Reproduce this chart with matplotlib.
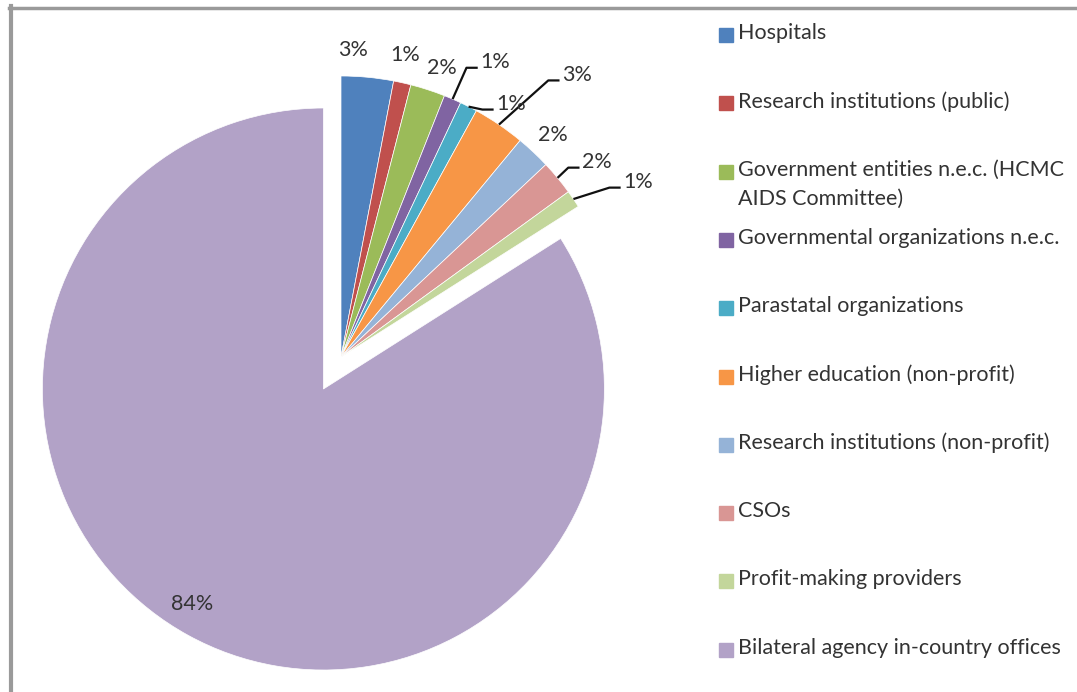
import numpy as np
import matplotlib
matplotlib.use("Agg")
import matplotlib.pyplot as plt
from matplotlib.patches import Rectangle
from matplotlib.lines import Line2D

plt.rcParams["font.family"] = ["Lato", "DejaVu Sans"]

categories = [
    "Hospitals",
    "Research institutions (public)",
    "Government entities n.e.c. (HCMC\nAIDS Committee)",
    "Governmental organizations n.e.c.",
    "Parastatal organizations",
    "Higher education (non-profit)",
    "Research institutions (non-profit)",
    "CSOs",
    "Profit-making providers",
    "Bilateral agency in-country offices",
]
shares = [3, 1, 2, 1, 1, 3, 2, 2, 1, 84]
colors = ["#4F81BD", "#C0504D", "#9BBB59", "#8064A2", "#4BACC6",
          "#F79646", "#95B3D7", "#D99694", "#C3D69B", "#B2A2C7"]

# label placement: radius and angular nudge (degrees) from the wedge middle
label_r = [1.093, 1.099, 1.089, 1.184, 1.085, 1.309, 1.092, 1.145, 1.227, 0.896]
label_dt = [3.2, 0.6, -1.3, -4.2, -6.9, -5.7, -0.5, -2.3, -3.7, -2.6]
leader = [False, False, False, True, True, True, False, True, True, False]

W, H = 1077, 692
R = 281.0
cx, cy = 341, 357
FS = 15.5

fig = plt.figure(figsize=(W / 100, H / 100), dpi=100)
ax = fig.add_axes([0, 0, 1, 1])

explode = [0] * 9 + [0.13]
wedges, _ = ax.pie(shares, colors=colors, startangle=90, counterclock=False,
                   explode=explode, radius=1,
                   wedgeprops=dict(edgecolor="white", linewidth=0.5))

ax.set_aspect("auto")
ax.set_xlim(-cx / R, (W - cx) / R)
ax.set_ylim(-(H - cy) / R, cy / R)
ax.axis("off")

txt_color = "#333333"
for w, v, r, dt, lead in zip(wedges, shares, label_r, label_dt, leader):
    mid = np.deg2rad((w.theta1 + w.theta2) / 2)
    ox, oy = w.center
    ang = mid + np.deg2rad(dt)
    tx, ty = ox + r * np.cos(ang), oy + r * np.sin(ang)
    ax.text(tx, ty, f"{v}%", ha="center", va="center", fontsize=FS,
            color=txt_color)
    if lead:
        x0, y0 = ox + np.cos(mid), oy + np.sin(mid)
        x2, y2 = tx - 0.062, ty - 0.02
        x1 = x2 - 0.04
        ax.plot([x0, x1, x2], [y0, y2, y2], color="#111111", lw=1.6,
                solid_capstyle="butt")

# legend on the right, one row per category
row0, step = 35, 68.3
for i, (lab, col) in enumerate(zip(categories, colors)):
    yc = row0 + i * step
    fig.patches.append(Rectangle((719 / W, 1 - (yc + 7) / H), 14 / W, 14 / H,
                                 transform=fig.transFigure, color=col))
    fig.text(738 / W, 1 - (yc - 12) / H, lab, ha="left", va="top",
             fontsize=FS, color=txt_color, linespacing=1.55)

# frame lines along the top and left
fig.add_artist(Line2D([9 / W, 1], [1 - 7.5 / H, 1 - 7.5 / H],
                      transform=fig.transFigure, color="#9a9a9a", lw=2.5))
fig.add_artist(Line2D([10.5 / W, 10.5 / W], [0, 1 - 6 / H],
                      transform=fig.transFigure, color="#9a9a9a", lw=3))

fig.savefig("out.png", dpi=100)
